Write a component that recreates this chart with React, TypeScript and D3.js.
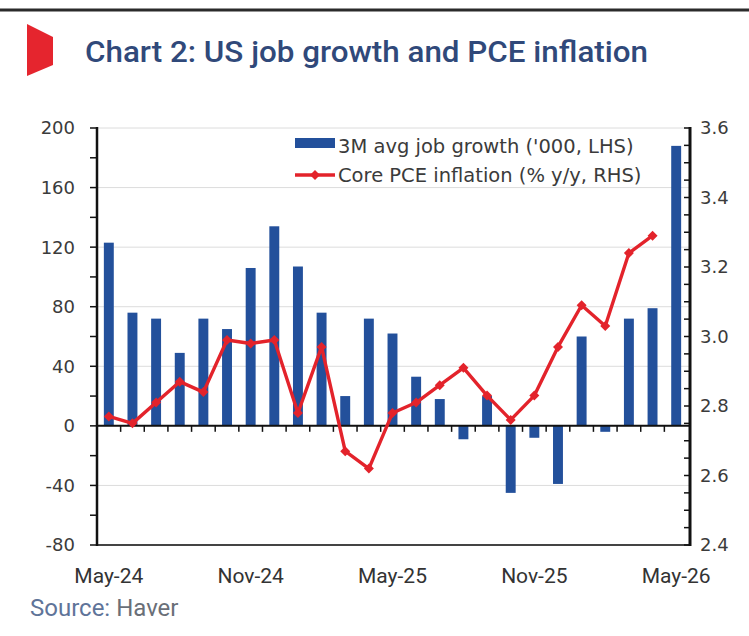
import React from "react";
import * as d3 from "d3";

// chart values
const months = [
  "May-24", "Jun-24", "Jul-24", "Aug-24", "Sep-24", "Oct-24", "Nov-24", "Dec-24",
  "Jan-25", "Feb-25", "Mar-25", "Apr-25", "May-25", "Jun-25", "Jul-25", "Aug-25",
  "Sep-25", "Oct-25", "Nov-25", "Dec-25", "Jan-26", "Feb-26", "Mar-26", "Apr-26", "May-26",
];
const jobGrowth = [
  123, 76, 72, 49, 72, 65, 106, 134, 107, 76, 20, 72, 62, 33, 18, -9,
  20, -45, -8, -39, 60, -4, 72, 79, 188,
];
const corePce = [
  2.77, 2.75, 2.81, 2.87, 2.84, 2.99, 2.98, 2.99, 2.78, 2.97, 2.67, 2.62,
  2.78, 2.81, 2.86, 2.91, 2.83, 2.76, 2.83, 2.97, 3.09, 3.03, 3.24, 3.29,
];
const xLabels = ["May-24", "Nov-24", "May-25", "Nov-25", "May-26"];
const leftTicks = [-80, -40, 0, 40, 80, 120, 160, 200];
const rightTicks = [2.4, 2.6, 2.8, 3.0, 3.2, 3.4, 3.6];
const legendLabels = ["3M avg job growth ('000, LHS)", "Core PCE inflation (% y/y, RHS)"];

const W = 749;
const H = 636;
const plot = { left: 97, right: 690, top: 128, bottom: 545 };

const BLUE = "#23509b";
const RED = "#e3232b";
const TXT = "#3b3b3b";

export default function App() {
  const x = d3
    .scaleBand<string>()
    .domain(months)
    .range([plot.left, plot.right - 2])
    .paddingInner(0.58)
    .paddingOuter(0.29);
  const yL = d3.scaleLinear().domain([-80, 200]).range([plot.bottom, plot.top]);
  const yR = d3.scaleLinear().domain([2.4, 3.6]).range([plot.bottom, plot.top]);
  const step = x.step();
  const bw = x.bandwidth();
  const cx = (m: string) => (x(m) as number) + bw / 2;

  const line = d3
    .line<number>()
    .x((_, i) => cx(months[i]))
    .y((d) => yR(d));
  const marker = d3.symbol(d3.symbolSquare, 50)() || "";

  const leftMinor = d3.range(-80, 201, 20);
  const rightMinor = d3.range(0, 25).map((i) => 2.4 + i * 0.05);
  const fmtR = d3.format(".1f");

  // category boundaries along the zero line
  const bounds = months.slice(1).map((m) => (x(m) as number) - (step - bw) / 2);

  return (
    <svg
      width={W}
      height={H}
      style={{ position: "absolute", left: 0, top: 0, background: "#fff" }}
    >
      <rect width={W} height={H} fill="#fff" />
      <line x1={0} x2={W} y1={10} y2={10} stroke="#2b2b2b" strokeWidth={3} />
      <path d="M27,24 L53,37 L53,65 L27,76 Z" fill="#e5252e" />
      <text
        x={85}
        y={62}
        fontFamily="Roboto, 'Liberation Sans', sans-serif"
        fontWeight={500}
        fontSize={30}
        fill="#30497a"
        textLength={563}
        lengthAdjust="spacingAndGlyphs"
      >
        Chart 2: US job growth and PCE inflation
      </text>

      {/* gridlines */}
      {leftTicks
        .filter((v) => v > -80)
        .map((v) => (
          <line key={"g" + v} x1={plot.left} x2={plot.right} y1={yL(v)} y2={yL(v)} stroke="#dcdcdc" strokeWidth={1} />
        ))}

      {/* bars */}
      {jobGrowth.map((v, i) => (
        <rect
          key={months[i]}
          x={x(months[i])}
          width={bw}
          y={Math.min(yL(v), yL(0))}
          height={Math.abs(yL(v) - yL(0))}
          fill={BLUE}
        />
      ))}

      {/* zero line with category ticks */}
      <line x1={plot.left} x2={plot.right} y1={yL(0)} y2={yL(0)} stroke="#111" strokeWidth={2} />
      {bounds.map((bx, i) => (
        <line key={"b" + i} x1={bx} x2={bx} y1={yL(0)} y2={yL(0) + 6} stroke="#111" strokeWidth={1.5} />
      ))}

      {/* bottom axis line */}
      <line x1={plot.left} x2={plot.right} y1={plot.bottom} y2={plot.bottom} stroke="#444" strokeWidth={2} />

      {/* PCE line */}
      <path d={line(corePce) || ""} fill="none" stroke={RED} strokeWidth={3.4} strokeLinejoin="round" />
      {corePce.map((v, i) => (
        <path
          key={"m" + i}
          d={marker}
          transform={`translate(${cx(months[i])},${yR(v)}) rotate(45)`}
          fill={RED}
        />
      ))}

      {/* left axis */}
      <line x1={plot.left} x2={plot.left} y1={plot.top - 1} y2={plot.bottom + 1} stroke="#111" strokeWidth={2.5} />
      {leftMinor.map((v) => (
        <line key={"lt" + v} x1={plot.left - 7} x2={plot.left} y1={yL(v)} y2={yL(v)} stroke="#111" strokeWidth={1.5} />
      ))}
      {leftTicks.map((v) => (
        <text
          key={"ll" + v}
          x={75}
          y={yL(v)}
          dy="0.36em"
          textAnchor="end"
          fontFamily="'DejaVu Sans', sans-serif"
          fontSize={18}
          fill={TXT}
        >
          {v}
        </text>
      ))}

      {/* right axis */}
      <line x1={plot.right} x2={plot.right} y1={plot.top - 1} y2={plot.bottom + 1} stroke="#111" strokeWidth={3} />
      {rightMinor.map((v, i) => (
        <line key={"rt" + i} x1={plot.right - 6} x2={plot.right} y1={yR(v)} y2={yR(v)} stroke="#111" strokeWidth={1.5} />
      ))}
      {rightTicks.map((v) => (
        <text
          key={"rl" + v}
          x={700}
          y={yR(v)}
          dy="0.36em"
          fontFamily="'DejaVu Sans', sans-serif"
          fontSize={18}
          fill={TXT}
        >
          {fmtR(v)}
        </text>
      ))}

      {/* x labels */}
      {xLabels.map((m) => (
        <text
          key={"x" + m}
          x={cx(m)}
          y={583}
          textAnchor="middle"
          fontFamily="Roboto, 'Liberation Sans', sans-serif"
          fontSize={21}
          fill="#333"
        >
          {m}
        </text>
      ))}

      {/* legend */}
      <rect x={295} y={138} width={40} height={10} fill={BLUE} />
      <text x={338} y={153} fontFamily="'DejaVu Sans', sans-serif" fontSize={19.5} fill={TXT}>
        {legendLabels[0]}
      </text>
      <line x1={295} x2={335} y1={175} y2={175} stroke={RED} strokeWidth={3.4} />
      <path d={marker} transform="translate(315,175) rotate(45)" fill={RED} />
      <text x={338} y={182} fontFamily="'DejaVu Sans', sans-serif" fontSize={19.5} fill={TXT}>
        {legendLabels[1]}
      </text>

      <text x={30} y={616} fontFamily="Roboto, 'Liberation Sans', sans-serif" fontSize={24}>
        <tspan fill="#5f7499">Source: </tspan>
        <tspan fill="#6a6f78">Haver</tspan>
      </text>
    </svg>
  );
}
